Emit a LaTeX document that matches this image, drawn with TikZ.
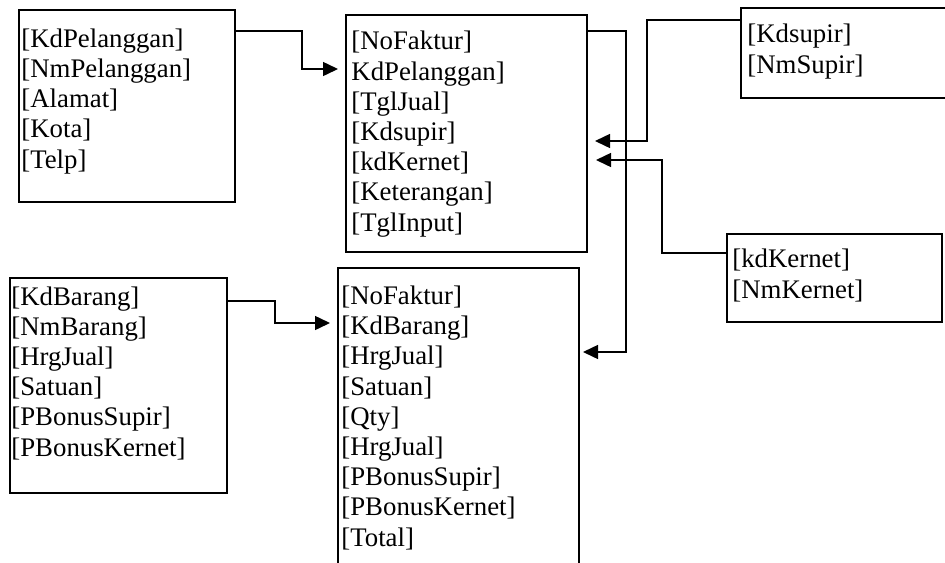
\documentclass[tikz,border=0pt]{standalone}
\usepackage{fontspec}
\setmainfont{Liberation Serif}
\usetikzlibrary{arrows.meta,calc}

\begin{document}
\begin{tikzpicture}[x=0.5pt,y=-0.5pt,
    tabel/.style={draw, line width=1pt, outer sep=0pt, inner sep=0pt},
    kolom/.style={anchor=base west, align=left, inner sep=0pt, font=\fontsize{13.4}{15.1}\selectfont},
    relasi/.style={line width=0.75pt, -{Triangle[length=7.5pt,width=7pt]}}]
  \useasboundingbox (0,0) rectangle (945,562);
  \clip (0,0) rectangle (945,562);

  % tabel-tabel
  \node[tabel, minimum width=108pt, minimum height=96pt] (pelanggan) at (127,106) {};
  \node[tabel, minimum width=120.5pt, minimum height=118.5pt] (faktur) at (466.5,133.5) {};
  \node[tabel, minimum width=109.5pt, minimum height=45pt] (supir) at (850.5,53) {};
  \node[tabel, minimum width=107.5pt, minimum height=44pt] (kernet) at (834.5,278) {};
  \node[tabel, minimum width=108.5pt, minimum height=107.5pt] (barang) at (118.5,385.5) {};
  \node[tabel, minimum width=120.5pt, minimum height=176pt] (detail) at (458.5,444) {};

  % isi kolom (posisi = baris terakhir)
  \node[kolom] (pelangganIsi) at (21,168) {{[KdPelanggan]}\\{[NmPelanggan]}\\{[Alamat]}\\{[Kota]}\\{[Telp]}};
  \node[kolom] (fakturIsi) at (351,231) {{[NoFaktur]}\\{KdPelanggan]}\\{[TglJual]}\\{[Kdsupir]}\\{[kdKernet]}\\{[Keterangan]}\\{[TglInput]}};
  \node[kolom] (supirIsi) at (747,73) {{[Kdsupir]}\\{[NmSupir]}};
  \node[kolom] (kernetIsi) at (732,298) {{[kdKernet]}\\{[NmKernet]}};
  \node[kolom] (barangIsi) at (11,456) {{[KdBarang]}\\{[NmBarang]}\\{[HrgJual]}\\{[Satuan]}\\{[PBonusSupir]}\\{[PBonusKernet]}};
  \node[kolom] (detailIsi) at (341,546) {{[NoFaktur]}\\{[KdBarang]}\\{[HrgJual]}\\{[Satuan]}\\{[Qty]}\\{[HrgJual]}\\{[PBonusSupir]}\\{[PBonusKernet]}\\{[Total]}};

  % relasi
  \draw[relasi, shorten >=4pt] ($(pelanggan.north east)+(0,21)$) -- ++(67,0) |- ($(faktur.north west)+(0,54)$);
  \draw[relasi, shorten >=2pt] ($(faktur.north east)+(0,16)$) -- ++(39,0) |- ($(detail.north east)+(0,84)$);
  \draw[relasi, shorten >=4pt] ($(supir.north west)+(0,12)$) -- ++(-94,0) |- ($(faktur.north east)+(0,126)$);
  \draw[relasi, shorten >=4.5pt] ($(kernet.north west)+(0,19)$) -- ++(-65,0) |- ($(faktur.north east)+(0,145)$);
  \draw[relasi, shorten >=4pt] ($(barang.north east)+(0,23)$) -- ++(48,0) |- ($(detail.north west)+(0,55)$);
\end{tikzpicture}
\end{document}
